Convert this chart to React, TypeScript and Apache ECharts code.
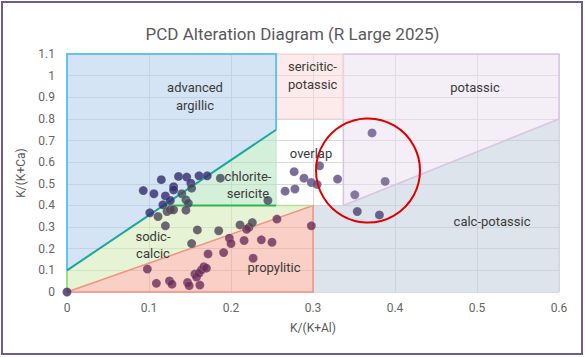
import React, { useEffect, useRef } from "react";
import * as echarts from "echarts";

// Sample values: K/(K+Al) on x, K/(K+Ca) on y
const kAl = [
  0.093, 0.106, 0.115, 0.130, 0.130, 0.120, 0.136, 0.146, 0.151, 0.152,
  0.161, 0.171, 0.187, 0.140, 0.117, 0.126, 0.145, 0.148, 0.101, 0.111,
  0.122, 0.126, 0.130, 0.145, 0.120, 0.159, 0.185, 0.152, 0.211, 0.222,
  0.226, 0.219, 0.198, 0.200, 0.216, 0.237, 0.250, 0.256, 0.172, 0.191,
  0.227, 0.098, 0.109, 0.125, 0.128, 0.147, 0.149, 0.162, 0.156, 0.158,
  0.161, 0.164, 0.167, 0.170, 0.0, 0.245, 0.266, 0.278, 0.277, 0.289,
  0.298, 0.305, 0.308, 0.330, 0.372, 0.388, 0.351, 0.354, 0.381, 0.298,
];
const kCa = [
  0.469, 0.454, 0.519, 0.487, 0.472, 0.444, 0.534, 0.531, 0.503, 0.480,
  0.537, 0.537, 0.526, 0.454, 0.403, 0.423, 0.426, 0.410, 0.366, 0.349,
  0.372, 0.380, 0.380, 0.378, 0.306, 0.287, 0.283, 0.224, 0.310, 0.299,
  0.321, 0.290, 0.249, 0.224, 0.238, 0.241, 0.230, 0.337, 0.176, 0.182,
  0.156, 0.106, 0.040, 0.051, 0.036, 0.044, 0.029, 0.032, 0.083, 0.069,
  0.087, 0.102, 0.117, 0.110, 0.0, 0.423, 0.466, 0.476, 0.556, 0.526,
  0.506, 0.497, 0.583, 0.522, 0.735, 0.511, 0.449, 0.372, 0.356, 0.306,
];

// Field boundaries (data units)
const advancedArgillic = [[0, 0.1], [0, 1.1], [0.255, 1.1], [0.255, 0.75]];
const chloriteSericite = [[0.118, 0.4], [0.255, 0.75], [0.255, 0.4]];
const sodicCalcic = [[0, 0], [0, 0.1], [0.118, 0.4], [0.3, 0.4]];
const propylitic = [[0, 0], [0.3, 0.4], [0.3, 0]];
const sericiticPotassic = [[0.255, 0.8], [0.255, 1.1], [0.337, 1.1], [0.337, 0.8]];
const potassic = [[0.337, 0.4], [0.337, 1.1], [0.6, 1.1], [0.6, 0.8]];
const calcPotassic = [[0.3, 0], [0.3, 0.4], [0.337, 0.4], [0.6, 0.8], [0.6, 0]];

const xTicks = { min: 0, max: 0.6, step: 0.1 };
const yTicks = { min: 0, max: 1.1, step: 0.1 };

const regionFills = [
  { pts: calcPotassic, fill: "rgba(195,206,219,0.55)" },
  { pts: potassic, fill: "rgba(233,222,239,0.5)" },
  { pts: sericiticPotassic, fill: "rgba(251,215,215,0.5)" },
  { pts: propylitic, fill: "rgba(244,168,152,0.55)" },
  { pts: sodicCalcic, fill: "rgba(210,234,178,0.55)" },
  { pts: chloriteSericite, fill: "rgba(178,228,188,0.55)" },
  { pts: advancedArgillic, fill: "rgba(176,206,235,0.55)" },
];

const borderLines = [
  { pts: [[0.6, 0], [0.6, 0.8]], color: "#cfd3e2", w: 1 },
  { pts: [[0.337, 0.4], [0.337, 1.1], [0.6, 1.1], [0.6, 0.8], [0.337, 0.4]], color: "#d5c6e2", w: 1.5 },
  { pts: [[0.255, 0.8], [0.255, 1.1], [0.337, 1.1], [0.337, 0.8], [0.255, 0.8]], color: "#f7d3d3", w: 1 },
  { pts: [[0, 0], [0.3, 0.4], [0.3, 0], [0, 0]], color: "#f4917f", w: 1.5 },
  { pts: [[0, 0], [0, 0.1]], color: "#a5d98a", w: 2 },
  { pts: [[0.255, 0.4], [0.3, 0.4]], color: "#b6df9a", w: 1.5 },
  { pts: [[0.255, 0.4], [0.255, 0.75]], color: "#bfe5c4", w: 1 },
  { pts: [[0.118, 0.4], [0.255, 0.4]], color: "#2db84d", w: 2 },
  { pts: [[0, 0.1], [0, 1.1], [0.255, 1.1], [0.255, 0.75]], color: "#62c4ea", w: 2 },
  { pts: [[0, 0.1], [0.255, 0.75]], color: "#17a7a0", w: 2 },
];

function pointColor(x: number, y: number): string {
  if (x === 0 && y === 0) return "#3a2a62";
  if (x < 0.255 && y > 0.1 + (0.65 / 0.255) * x) return "#2f2a6e";
  if (x <= 0.3 && y < (0.4 / 0.3) * x) return "#6b2d59";
  if (x < 0.255 && y > 0.4) return "#3d4a5a";
  if (x < 0.3 && y <= 0.4) return "#4a4452";
  if (x < 0.337 && y >= 0.4) return "#5a4a80";
  if (x >= 0.337 && y > 0.4 + (x - 0.337) * (0.4 / 0.263)) return "#66578a";
  return "#4b3f70";
}

const labelFont = "Roboto, 'Noto Sans', sans-serif";

export default function App() {
  const ref = useRef<HTMLDivElement>(null);
  useEffect(() => {
    document.body.style.margin = "0";
    const chart = echarts.init(ref.current!, null, { renderer: "svg" });
    const pts = kAl.map((x, i) => ({
      value: [x, kCa[i]],
      itemStyle: { color: pointColor(x, kCa[i]) },
    }));
    const txt = (text: string, x: number, y: number, align = "center") => ({
      type: "text",
      x,
      y,
      z: 100,
      style: {
        text,
        fill: "#3a3a3a",
        font: `13px ${labelFont}`,
        align,
        verticalAlign: "middle",
      },
    });
    chart.setOption({
      animation: false,
      backgroundColor: "#fff",
      title: {
        text: "PCD Alteration Diagram (R Large 2025)",
        left: "center",
        top: 20,
        textStyle: { fontSize: 17, fontWeight: "normal", color: "#595959", fontFamily: labelFont },
      },
      grid: { left: 67, right: 26, top: 54, bottom: 65 },
      xAxis: {
        type: "value",
        min: xTicks.min,
        max: xTicks.max,
        interval: xTicks.step,
        name: "K/(K+Al)",
        nameLocation: "middle",
        nameGap: 30,
        nameTextStyle: { color: "#595959", fontSize: 12, fontFamily: labelFont },
        axisLine: { show: false },
        axisTick: { show: false },
        axisLabel: { color: "#666", fontSize: 12, margin: 10, fontFamily: labelFont },
        splitLine: { lineStyle: { color: "#d9d9d9" } },
      },
      yAxis: {
        type: "value",
        min: yTicks.min,
        max: yTicks.max,
        interval: yTicks.step,
        name: "K/(K+Ca)",
        nameLocation: "middle",
        nameGap: 32,
        nameTextStyle: { color: "#595959", fontSize: 12, fontFamily: labelFont },
        axisLine: { show: false },
        axisTick: { show: false },
        axisLabel: { color: "#666", fontSize: 12, margin: 12, fontFamily: labelFont },
        splitLine: { lineStyle: { color: "#d9d9d9" } },
      },
      graphic: [
        {
          type: "rect",
          shape: { x: 2, y: 2, width: 580, height: 352 },
          z: -10,
          style: { fill: "none", stroke: "#6f5c8f", lineWidth: 2 },
        },
        txt("advanced", 195, 87),
        txt("argillic", 195, 105),
        txt("sericitic-", 288, 66, "left"),
        txt("potassic", 288, 84, "left"),
        txt("potassic", 475, 87),
        txt("overlap", 311, 153),
        txt("chlorite-", 248, 176),
        txt("sericite", 248, 193),
        txt("sodic-", 153, 236),
        txt("calcic", 153, 253),
        txt("propylitic", 274, 267),
        txt("calc-potassic", 492, 221),
        {
          type: "circle",
          shape: { cx: 368, cy: 170.5, r: 52 },
          z: 100,
          style: { fill: "none", stroke: "#e00000", lineWidth: 2 },
        },
      ],
      series: [
        {
          type: "custom",
          coordinateSystem: "cartesian2d",
          z: 1,
          silent: true,
          data: regionFills.map((_, i) => [i]),
          encode: { x: -1, y: -1 },
          renderItem: (params: any, api: any) => {
            const r = regionFills[params.dataIndex];
            return {
              type: "polygon",
              shape: { points: r.pts.map((p) => api.coord(p)) },
              style: { fill: r.fill, stroke: "none" },
            };
          },
        },
        {
          type: "custom",
          coordinateSystem: "cartesian2d",
          z: 2,
          silent: true,
          data: borderLines.map((_, i) => [i]),
          encode: { x: -1, y: -1 },
          renderItem: (params: any, api: any) => {
            const b = borderLines[params.dataIndex];
            return {
              type: "polyline",
              shape: { points: b.pts.map((p) => api.coord(p)) },
              style: { fill: "none", stroke: b.color, lineWidth: b.w },
            };
          },
        },
        {
          type: "scatter",
          z: 5,
          symbolSize: 9,
          data: pts,
          itemStyle: { borderColor: "rgba(255,255,255,0.25)", borderWidth: 0.8 },
        },
      ],
    });
    return () => chart.dispose();
  }, []);
  return <div ref={ref} style={{ width: 585, height: 357 }} />;
}
